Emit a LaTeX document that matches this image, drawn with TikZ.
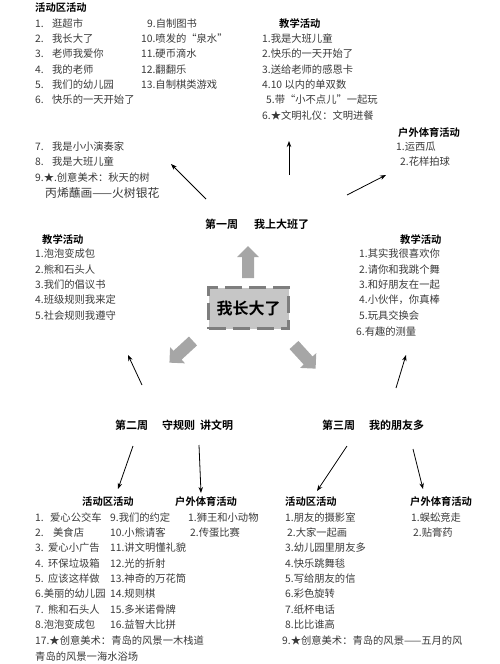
\documentclass[tikz,border=0pt]{standalone}
\usepackage{fontspec}
\setmainfont{Noto Sans CJK SC}[BoldFont={Noto Sans CJK SC Bold}]
\usetikzlibrary{arrows.meta}
\definecolor{itemgray}{HTML}{3A3A3A}
\definecolor{arrowfill}{HTML}{A6A6A6}
\definecolor{boxfill}{HTML}{C6C6C6}
\definecolor{boxline}{HTML}{7E7E7E}
\tikzset{
  item/.style={anchor=west, inner sep=0pt, text=itemgray, font=\fontsize{10.3}{12}\selectfont},
  head/.style={anchor=west, inner sep=0pt, font=\fontsize{10.3}{12}\selectfont\bfseries},
  week/.style={anchor=west, inner sep=0pt, font=\fontsize{11}{13}\selectfont\bfseries},
  thin/.style={line width=0.8pt, -{Stealth[length=6pt,width=4.5pt]}},
  blockarrow/.pic={\fill[arrowfill] (0,-6) -- (21,-6) -- (21,-11) -- (32,0) -- (21,11) -- (21,6) -- (0,6) -- cycle;}
}
\newcommand{\nb}[2]{\makebox[#1][l]{#2}}
\begin{document}
\begin{tikzpicture}[x=1pt,y=-1pt]
\useasboundingbox (0,0) rectangle (500,664);
% ---------- top left: 活动区活动
\node[head] (tlh) at (35,8) {活动区活动};
\node[item] (tl1) at (35,24) {\nb{17pt}{1.}逛超市};
\node[item] (tl2) at (35,39) {\nb{17pt}{2.}我长大了};
\node[item] (tl3) at (35,54) {\nb{17pt}{3.}老师我爱你};
\node[item] (tl4) at (35,70) {\nb{17pt}{4.}我的老师};
\node[item] (tl5) at (35,85) {\nb{17pt}{5.}我们的幼儿园};
\node[item] (tl6) at (35,100) {\nb{17pt}{6.}快乐的一天开始了};
\node[item] (tl9) at (147,24) {9.自制图书};
\node[item] (tl10) at (141,39) {10.喷发的“泉水”};
\node[item] (tl11) at (141,54) {11.硬币滴水};
\node[item] (tl12) at (141,70) {12.翻翻乐};
\node[item] (tl13) at (141,85) {13.自制棋类游戏};
\node[item] (tl7) at (35,147) {\nb{17pt}{7.}我是小小演奏家};
\node[item] (tl8) at (35,162) {\nb{17pt}{8.}我是大班儿童};
\node[item] (tl9b) at (35,178) {9.★.创意美术：秋天的树};
\node[item, font=\fontsize{11.8}{13}\selectfont] (tl9c) at (45,193) {丙烯蘸画——火树银花};
% ---------- top right: 教学活动
\node[head] (trh) at (279,24) {教学活动};
\node[item] (tr1) at (262,39) {1.我是大班儿童};
\node[item] (tr2) at (262,54) {2.快乐的一天开始了};
\node[item] (tr3) at (262,70) {3.送给老师的感恩卡};
\node[item] (tr4) at (262,85) {4.10 以内的单双数};
\node[item] (tr5) at (266,100) {5.带“小不点儿”一起玩};
\node[item] (tr6) at (262,116) {6.★文明礼仪：文明进餐};
% ---------- outdoor week 1
\node[head] (ouh) at (398,133) {户外体育活动};
\node[item] (ou1) at (396,147) {1.运西瓜};
\node[item] (ou2) at (400,162) {2.花样拍球};
% ---------- week 1 label
\node[week] (w1) at (205,224) {第一周\hspace{16pt}我上大班了};
% ---------- middle left
\node[head] (mlh) at (42,240) {教学活动};
\node[item] (ml1) at (35,254) {1.泡泡变成包};
\node[item] (ml2) at (35,270) {2.熊和石头人};
\node[item] (ml3) at (35,285) {3.我们的倡议书};
\node[item] (ml4) at (35,300) {4.班级规则我来定};
\node[item] (ml5) at (35,316) {5.社会规则我遵守};
% ---------- middle right
\node[head] (mrh) at (400,240) {教学活动};
\node[item] (mr1) at (359,254) {1.其实我很喜欢你};
\node[item] (mr2) at (359,270) {2.请你和我跳个舞};
\node[item] (mr3) at (359,285) {3.和好朋友在一起};
\node[item] (mr4) at (359,300) {4.小伙伴，你真棒};
\node[item] (mr5) at (359,316) {5.玩具交换会};
\node[item] (mr6) at (356,332) {6.有趣的测量};
% ---------- center
\node[draw=boxline, fill=boxfill, line width=2.6pt, dash pattern=on 17pt off 7pt,
      minimum width=80pt, minimum height=41pt, inner sep=0pt,
      font=\fontsize{16}{18}\selectfont\bfseries] (center) at (248.5,308) {我长大了};
\pic[rotate=90] at (248,278) {blockarrow};
\pic[rotate=222.6] at (193,341) {blockarrow};
\pic[rotate=-47.6] at (294,345) {blockarrow};
% ---------- weeks 2 and 3
\node[week] (w2) at (115,425) {第二周\hspace{14pt}守规则\hspace{5pt}讲文明};
\node[week] (w3) at (322,425) {第三周\hspace{14pt}我的朋友多};
% ---------- bottom left
\node[head] (blh) at (82,502) {活动区活动};
\node[head] (boh) at (175,502) {户外体育活动};
\node[item] (bl1) at (35,518) {\nb{15pt}{1.}爱心公交车};
\node[item] (bl2) at (35,533) {\nb{18pt}{2.}美食店};
\node[item] (bl3) at (35,548) {\nb{13pt}{3.}爱心小广告};
\node[item] (bl4) at (35,564) {\nb{13pt}{4.}环保垃圾箱};
\node[item] (bl5) at (35,579) {\nb{13pt}{5.}应该这样做};
\node[item] (bl6) at (35,594) {6.美丽的幼儿园};
\node[item] (bl7) at (35,610) {\nb{13pt}{7.}熊和石头人};
\node[item] (bl8) at (35,625) {8.泡泡变成包};
\node[item] (bl17) at (35,641) {17.★创意美术：青岛的风景一木栈道};
\node[item] (bl18) at (35,657) {青岛的风景一海水浴场};
\node[item] (bl9) at (110,518) {9.我们的约定};
\node[item] (bl10) at (110,533) {10.小熊请客};
\node[item] (bl11) at (110,548) {11.讲文明懂礼貌};
\node[item] (bl12) at (110,564) {12.光的折射};
\node[item] (bl13) at (110,579) {13.神奇的万花筒};
\node[item] (bl14) at (110,594) {14.规则棋};
\node[item] (bl15) at (110,610) {15.多米诺骨牌};
\node[item] (bl16) at (110,625) {16.益智大比拼};
\node[item] (bo1) at (188,518) {1.狮王和小动物};
\node[item] (bo2) at (190,533) {2.传蛋比赛};
% ---------- bottom right
\node[head] (brh) at (285,502) {活动区活动};
\node[head] (broh) at (410,502) {户外体育活动};
\node[item] (br1) at (285,518) {1.朋友的摄影室};
\node[item] (br2) at (287,533) {2.大家一起画};
\node[item] (br3) at (285,548) {3.幼儿园里朋友多};
\node[item] (br4) at (285,564) {4.快乐跳舞毯};
\node[item] (br5) at (285,579) {5.写给朋友的信};
\node[item] (br6) at (285,594) {6.彩色旋转};
\node[item] (br7) at (285,610) {7.纸杯电话};
\node[item] (br8) at (285,625) {8.比比谁高};
\node[item] (br9) at (282,641) {9.★创意美术：青岛的风景——五月的风};
\node[item] (bro1) at (411,518) {1.蜈蚣竞走};
\node[item] (bro2) at (413,533) {2.贴膏药};
% ---------- thin arrow ends
\coordinate (a1s) at (206,199); \coordinate (a1e) at (171,164);
\coordinate (a2s) at (289,175); \coordinate (a2e) at (289,141);
\coordinate (a3s) at (347,195); \coordinate (a3e) at (386,175);
\coordinate (a4s) at (142,385); \coordinate (a4e) at (128,355);
\coordinate (a5s) at (396,388); \coordinate (a5e) at (406,355);
\coordinate (a6s) at (133,446); \coordinate (a6e) at (118,489);
\coordinate (a7s) at (199,445); \coordinate (a7e) at (201,493);
\coordinate (a8s) at (347,446); \coordinate (a8e) at (317,491);
\coordinate (a9s) at (413,449); \coordinate (a9e) at (423,489);
\draw[thin] (a1s) -- (a1e);
\draw[thin] (a2s) -- (a2e);
\draw[thin] (a3s) -- (a3e);
\draw[thin] (a4s) -- (a4e);
\draw[thin] (a5s) -- (a5e);
\draw[thin] (a6s) -- (a6e);
\draw[thin] (a7s) -- (a7e);
\draw[thin] (a8s) -- (a8e);
\draw[thin] (a9s) -- (a9e);
\end{tikzpicture}
\end{document}
